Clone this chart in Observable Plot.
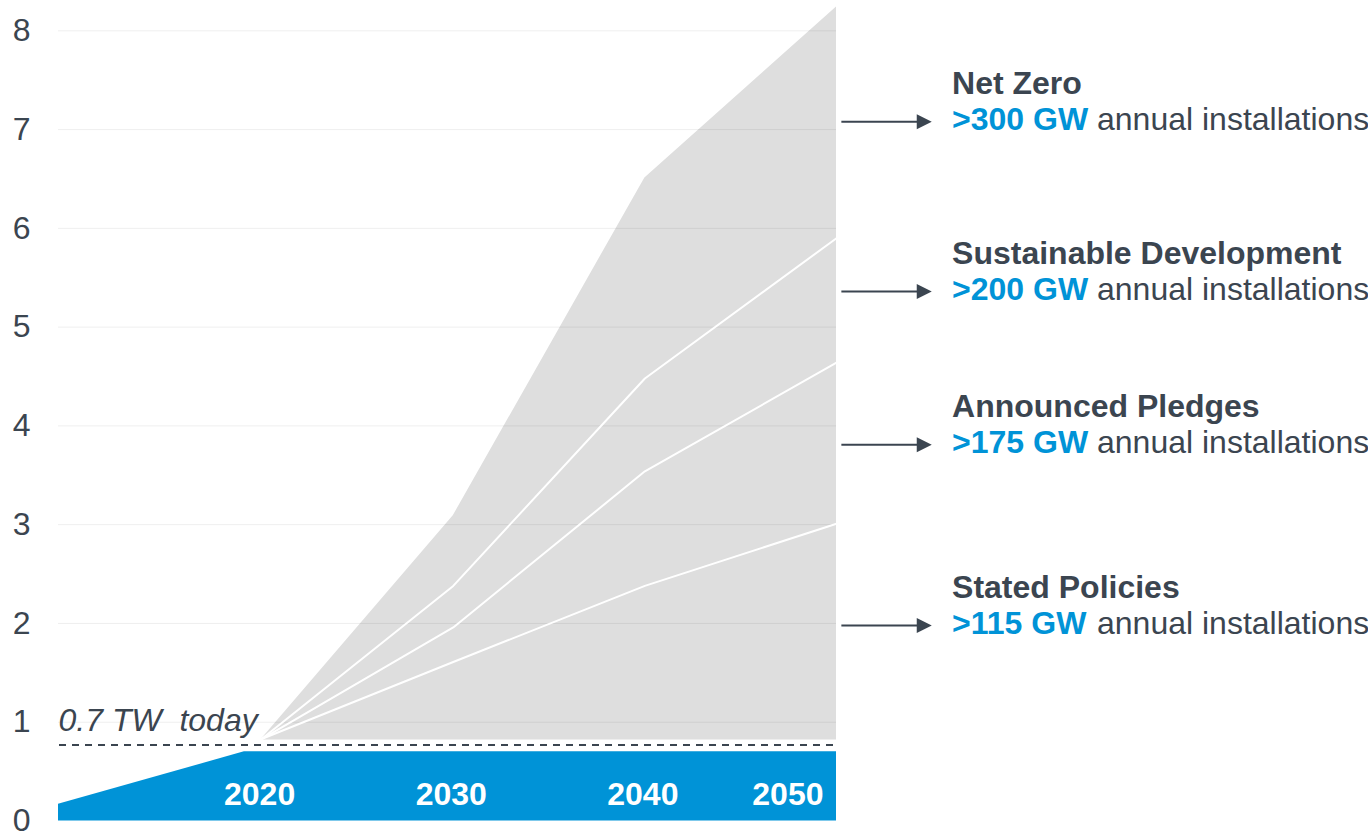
<!DOCTYPE html>
<html>
<head>
<meta charset="utf-8">
<script src="https://cdn.jsdelivr.net/npm/d3@7"></script>
<script src="https://cdn.jsdelivr.net/npm/@observablehq/plot@0.6"></script>
<style>
  html, body { margin: 0; padding: 0; background: #fff; }
  #chart svg { display: block; }
</style>
</head>
<body>
<div id="chart"></div>
<script>
// ---- data ----
const years = [2020, 2030, 2040, 2050];
const netZero = [0.83, 3.09, 6.51, 8.24];
const sustainable = [0.83, 2.38, 4.48, 5.90];
const pledges = [0.83, 1.96, 3.54, 4.64];
const stated = [0.83, 1.61, 2.38, 3.01];
const historyYears = [2009.4, 2019.1, 2050];
const historyValues = [0.17, 0.70, 0.70];
const todayLevel = 0.77;
const scenarioBase = 0.82;
const todayLabel = "0.7 TW\u00a0\u00a0today";
const scenarioNames = ["Net Zero", "Sustainable Development", "Announced Pledges", "Stated Policies"];
const scenarioInstall = [">300 GW", ">200 GW", ">175 GW", ">115 GW"];
const installSuffix = "annual installations";
const scenarioArrowY = [7.08, 5.36, 3.81, 1.98];
const yTicks = [0, 1, 2, 3, 4, 5, 6, 7, 8];
const xLabels = ["2020", "2030", "2040", "2050"];

// ---- styles ----
const FONT = "'Liberation Sans', Arial, sans-serif";
const DARK = "#3b4550";
const BLUE = "#0093d7";
const GRAY = "#dedede";
const X0 = 2009.4;

const scenarioRows = years.map((y, i) => ({year: y, nz: netZero[i], sd: sustainable[i], ap: pledges[i], sp: stated[i]}));
const historyRows = historyYears.map((y, i) => ({year: y, v: historyValues[i]}));
const annot = scenarioNames.map((n, i) => ({name: n, install: scenarioInstall[i], y: scenarioArrowY[i]}));
const xLabelRows = xLabels.map((t, i) => ({t, year: years[i]}));

// measure width of bold prefix for the mixed-style second line
const ctx = document.createElement("canvas").getContext("2d");
ctx.font = "bold 32px " + FONT;
const boldW = ctx.measureText(scenarioInstall[0]).width;
ctx.font = "32px " + FONT;
const spaceW = ctx.measureText(" ").width;

const arrowHead = {
  draw(c) {
    c.moveTo(0, 0);
    c.lineTo(-15, -7.5);
    c.lineTo(-15, 7.5);
    c.closePath();
  }
};

const plot = Plot.plot({
  width: 1368,
  height: 836,
  marginLeft: 58,
  style: {fontFamily: FONT, background: "#fff"},
  x: {domain: [X0, 2050], range: [58, 836], axis: null},
  y: {domain: [0, 8], range: [820.5, 30.3], axis: null},
  marks: [
    // scenario envelope
    Plot.areaY(scenarioRows, {x: "year", y1: scenarioBase, y2: "nz", fill: GRAY}),
    // gridlines
    Plot.ruleY(yTicks.filter(d => d > 0), {x1: X0, x2: 2050, stroke: "#000", strokeOpacity: 0.065, strokeWidth: 1}),
    // scenario lines
    Plot.line(scenarioRows, {x: "year", y: "sd", stroke: "#fff", strokeWidth: 2}),
    Plot.line(scenarioRows, {x: "year", y: "ap", stroke: "#fff", strokeWidth: 2}),
    Plot.line(scenarioRows, {x: "year", y: "sp", stroke: "#fff", strokeWidth: 2}),
    // installed capacity band
    Plot.areaY(historyRows, {x: "year", y: "v", fill: BLUE}),
    // today dashed line
    Plot.ruleY([todayLevel], {x1: X0, x2: 2050, dx: 1, stroke: DARK, strokeWidth: 2, strokeDasharray: "7,6"}),
    Plot.text([todayLabel], {x: X0, y: todayLevel, dy: -24, textAnchor: "start", fontSize: 32, fontStyle: "italic", fill: DARK}),
    // y tick labels
    Plot.text(yTicks, {x: X0, y: d => d, dx: -28, textAnchor: "end", fontSize: 32, fill: DARK, text: d => String(d)}),
    // year labels inside the blue band
    Plot.text(xLabelRows.slice(0, 3), {x: "year", y: 0.27, text: "t", dx: -2, fontSize: 32, fontWeight: "bold", fill: "#fff"}),
    Plot.text(xLabelRows.slice(3), {x: "year", y: 0.27, text: "t", dx: -13, textAnchor: "end", fontSize: 32, fontWeight: "bold", fill: "#fff"}),
    // annotation arrows
    Plot.ruleY(annot, {y: "y", x1: 2050.28, x2: 2054.4, stroke: DARK, strokeWidth: 2}),
    Plot.dot(annot, {x: 2054.97, y: "y", symbol: arrowHead, fill: DARK, stroke: null}),
    // annotation text
    Plot.text(annot, {x: 2056.03, y: "y", dy: -38, text: "name", textAnchor: "start", fontSize: 32, fontWeight: "bold", fill: DARK}),
    Plot.text(annot, {x: 2056.03, y: "y", dy: -2, text: "install", textAnchor: "start", fontSize: 32, fontWeight: "bold", fill: BLUE}),
    Plot.text(annot, {x: 2056.03, y: "y", dy: -2, dx: boldW + spaceW, text: () => installSuffix, textAnchor: "start", fontSize: 32, fill: DARK})
  ]
});
document.getElementById("chart").appendChild(plot);
</script>
</body>
</html>
